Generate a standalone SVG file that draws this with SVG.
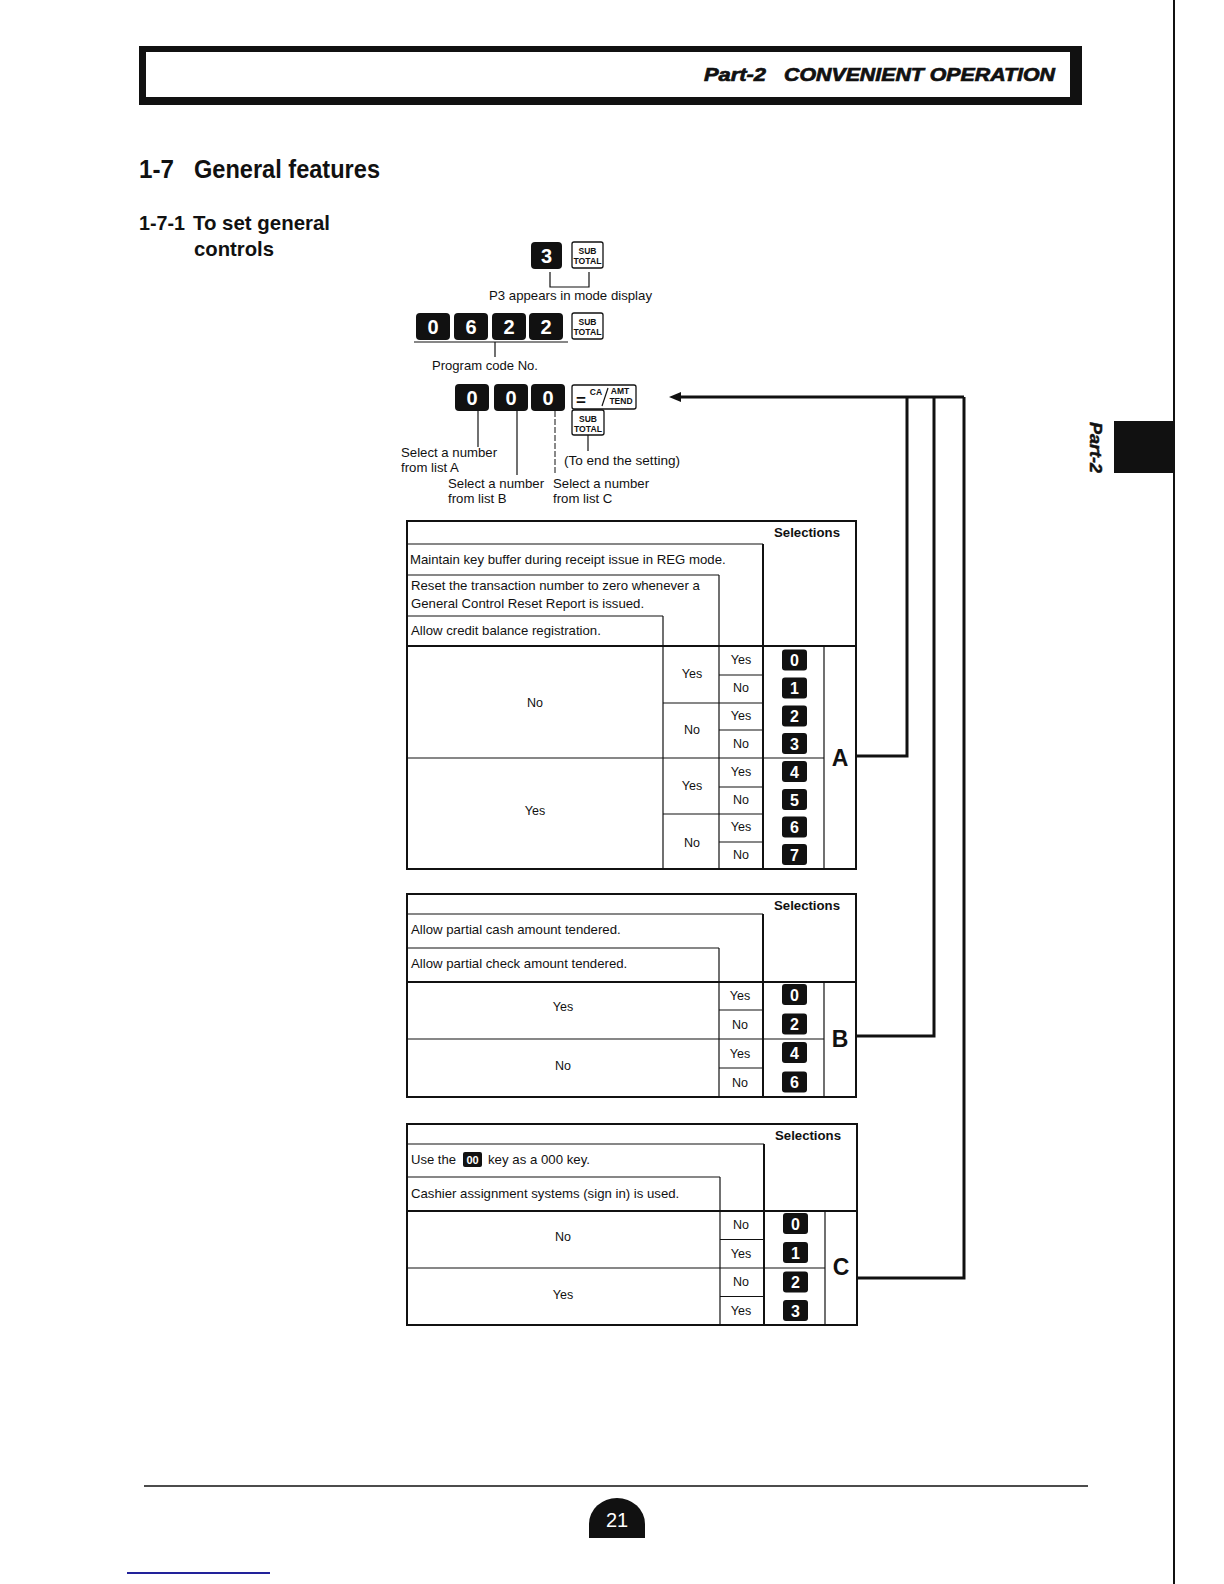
<svg xmlns="http://www.w3.org/2000/svg" width="1224" height="1584" viewBox="0 0 1224 1584">
<style>
.t{font-family:"Liberation Sans",Arial,sans-serif;font-size:13.2px;fill:#111}
.y{font-size:12.5px}
.c{text-anchor:middle}
.b{font-weight:bold}
.h{font-family:"Liberation Sans",Arial,sans-serif;font-weight:bold;fill:#111}
.key{fill:#111}
.kd{font-family:"Liberation Sans",Arial,sans-serif;font-weight:bold;fill:#fff;text-anchor:middle}
.sk{fill:#fff;stroke:#111;stroke-width:1.3}
.st{font-family:"Liberation Sans",Arial,sans-serif;font-weight:bold;font-size:8.5px;fill:#111;text-anchor:middle}
.ln{stroke:#111;stroke-width:1.2;fill:none}
.tk{stroke:#111;stroke-width:2;fill:none}
.conn{stroke:#111;stroke-width:3;fill:none}
</style>
<defs>
<marker id="arr" viewBox="0 0 12 10" refX="0" refY="5" markerWidth="12" markerHeight="10" markerUnits="userSpaceOnUse" orient="auto">
<path d="M0,0 L12,5 L0,10 Z" fill="#111"/>
</marker>
</defs>
<rect width="1224" height="1584" fill="#fff"/>

<g id="header">
<rect x="139" y="46" width="943" height="59" fill="#111"/>
<rect x="146" y="52" width="924" height="45" fill="#fff"/>
<text x="704" y="81" class="h" font-size="18" font-style="italic" stroke="#111" stroke-width="0.7" textLength="62" lengthAdjust="spacingAndGlyphs">Part-2</text>
<text x="784" y="81" class="h" font-size="18" font-style="italic" stroke="#111" stroke-width="0.7" textLength="271" lengthAdjust="spacingAndGlyphs">CONVENIENT OPERATION</text>
</g>

<g id="side-tab">
<line x1="1174" y1="0" x2="1174" y2="1584" stroke="#111" stroke-width="2"/>
<rect x="1114" y="421" width="60" height="52" fill="#111"/>
<text class="h" font-size="17" font-style="italic" stroke="#111" stroke-width="0.5" transform="translate(1090,422) rotate(90)" textLength="51" lengthAdjust="spacingAndGlyphs">Part-2</text>
</g>

<g id="titles">
<text x="139" y="178" class="h" font-size="26" textLength="35" lengthAdjust="spacingAndGlyphs">1-7</text>
<text x="194" y="178" class="h" font-size="26" textLength="186" lengthAdjust="spacingAndGlyphs">General features</text>
<text x="139" y="230" class="h" font-size="21" textLength="46" lengthAdjust="spacingAndGlyphs">1-7-1</text>
<text x="193" y="230" class="h" font-size="21" textLength="137" lengthAdjust="spacingAndGlyphs">To set general</text>
<text x="194" y="256" class="h" font-size="21" textLength="80" lengthAdjust="spacingAndGlyphs">controls</text>
</g>

<g id="step1">
<rect x="531" y="242" width="31" height="27" rx="4" class="key"/>
<text x="546.5" y="263" class="kd" font-size="20">3</text>
<rect x="572" y="242" width="31" height="26" rx="2" class="sk"/>
<text x="587.5" y="253.5" class="st">SUB</text>
<text x="587.5" y="263.5" class="st" textLength="28" lengthAdjust="spacingAndGlyphs">TOTAL</text>
<path d="M550,272 V287 H589 V272" class="ln"/>
<text x="489" y="300" class="t" font-size="12.5" textLength="163" lengthAdjust="spacingAndGlyphs">P3 appears in mode display</text>
</g>

<g id="step2">
<rect x="416" y="313" width="34" height="27" rx="4" class="key"/>
<text x="433" y="334" class="kd" font-size="20">0</text>
<rect x="454" y="313" width="34" height="27" rx="4" class="key"/>
<text x="471" y="334" class="kd" font-size="20">6</text>
<rect x="492" y="313" width="34" height="27" rx="4" class="key"/>
<text x="509" y="334" class="kd" font-size="20">2</text>
<rect x="529" y="313" width="34" height="27" rx="4" class="key"/>
<text x="546" y="334" class="kd" font-size="20">2</text>
<rect x="572" y="313" width="31" height="26" rx="2" class="sk"/>
<text x="587.5" y="324.5" class="st">SUB</text>
<text x="587.5" y="334.5" class="st" textLength="28" lengthAdjust="spacingAndGlyphs">TOTAL</text>
<line x1="414" y1="342" x2="568" y2="342" class="ln"/>
<line x1="495" y1="342" x2="495" y2="357" class="ln"/>
<text x="432" y="370" class="t" font-size="12.5" textLength="106" lengthAdjust="spacingAndGlyphs">Program code No.</text>
</g>

<g id="step3">
<rect x="455" y="384" width="34" height="27" rx="4" class="key"/>
<text x="472" y="405" class="kd" font-size="20">0</text>
<rect x="494" y="384" width="34" height="27" rx="4" class="key"/>
<text x="511" y="405" class="kd" font-size="20">0</text>
<rect x="531" y="384" width="34" height="27" rx="4" class="key"/>
<text x="548" y="405" class="kd" font-size="20">0</text>
<rect x="572" y="385" width="64" height="24" rx="2" class="sk"/>
<text x="581" y="406" class="h" font-size="17" text-anchor="middle">=</text>
<text x="596" y="395" class="st" font-size="8">CA</text>
<line x1="602" y1="406" x2="608" y2="388" class="ln"/>
<text x="620" y="394" class="st" font-size="7.5">AMT</text>
<text x="621" y="403.5" class="st" font-size="7.5">TEND</text>
<rect x="572" y="410" width="32" height="25" rx="2" class="sk"/>
<text x="588" y="421.5" class="st">SUB</text>
<text x="588" y="431.5" class="st" textLength="28" lengthAdjust="spacingAndGlyphs">TOTAL</text>
<line x1="478" y1="411" x2="478" y2="447" class="ln"/>
<line x1="517" y1="411" x2="517" y2="475" class="ln"/>
<line x1="555" y1="411" x2="555" y2="475" stroke="#111" stroke-width="1" stroke-dasharray="6,2"/>
<line x1="588" y1="435" x2="588" y2="451" class="ln"/>
<text x="401" y="457" class="t">Select a number</text>
<text x="401" y="472" class="t">from list A</text>
<text x="564" y="465" class="t" textLength="116" lengthAdjust="spacingAndGlyphs">(To end the setting)</text>
<text x="448" y="488" class="t">Select a number</text>
<text x="448" y="503" class="t">from list B</text>
<text x="553" y="488" class="t">Select a number</text>
<text x="553" y="503" class="t">from list C</text>
</g>

<g id="tableA">
<rect x="407" y="521" width="449" height="348" class="tk"/>
<line x1="407" y1="544" x2="763" y2="544" class="ln"/>
<line x1="407" y1="575" x2="719" y2="575" class="ln"/>
<line x1="407" y1="616" x2="663" y2="616" class="ln"/>
<line x1="407" y1="646" x2="856" y2="646" class="tk"/>
<line x1="763" y1="544" x2="763" y2="869" class="tk"/>
<line x1="719" y1="575" x2="719" y2="869" class="ln"/>
<line x1="663" y1="616" x2="663" y2="869" class="ln"/>
<line x1="824" y1="646" x2="824" y2="869" class="ln"/>
<line x1="407" y1="758" x2="824" y2="758" class="ln"/>
<line x1="663" y1="703" x2="763" y2="703" class="ln"/>
<line x1="663" y1="814" x2="763" y2="814" class="ln"/>
<line x1="719" y1="675" x2="763" y2="675" class="ln"/>
<line x1="719" y1="730" x2="763" y2="730" class="ln"/>
<line x1="719" y1="787" x2="763" y2="787" class="ln"/>
<line x1="719" y1="842" x2="763" y2="842" class="ln"/>
<text x="807" y="537" class="t b c" font-size="13.5">Selections</text>
<text x="410" y="564" class="t">Maintain key buffer during receipt issue in REG mode.</text>
<text x="411" y="590" class="t">Reset the transaction number to zero whenever a</text>
<text x="411" y="608" class="t">General Control Reset Report is issued.</text>
<text x="411" y="635" class="t">Allow credit balance registration.</text>
<text x="535" y="707" class="t y c">No</text>
<text x="535" y="815" class="t y c">Yes</text>
<text x="692" y="678" class="t y c">Yes</text>
<text x="692" y="734" class="t y c">No</text>
<text x="692" y="790" class="t y c">Yes</text>
<text x="692" y="847" class="t y c">No</text>
<text x="741" y="664" class="t y c">Yes</text>
<text x="741" y="692" class="t y c">No</text>
<text x="741" y="720" class="t y c">Yes</text>
<text x="741" y="748" class="t y c">No</text>
<text x="741" y="776" class="t y c">Yes</text>
<text x="741" y="804" class="t y c">No</text>
<text x="741" y="831" class="t y c">Yes</text>
<text x="741" y="859" class="t y c">No</text>
<rect x="782" y="649.5" width="25" height="21" rx="3" class="key"/><text x="794.5" y="666" class="kd" font-size="16">0</text>
<rect x="782" y="677.5" width="25" height="21" rx="3" class="key"/><text x="794.5" y="694" class="kd" font-size="16">1</text>
<rect x="782" y="705.5" width="25" height="21" rx="3" class="key"/><text x="794.5" y="722" class="kd" font-size="16">2</text>
<rect x="782" y="733" width="25" height="21" rx="3" class="key"/><text x="794.5" y="749.5" class="kd" font-size="16">3</text>
<rect x="782" y="761" width="25" height="21" rx="3" class="key"/><text x="794.5" y="777.5" class="kd" font-size="16">4</text>
<rect x="782" y="789" width="25" height="21" rx="3" class="key"/><text x="794.5" y="805.5" class="kd" font-size="16">5</text>
<rect x="782" y="816.5" width="25" height="21" rx="3" class="key"/><text x="794.5" y="833" class="kd" font-size="16">6</text>
<rect x="782" y="844" width="25" height="21" rx="3" class="key"/><text x="794.5" y="860.5" class="kd" font-size="16">7</text>
<text x="840" y="766" class="h c" font-size="23">A</text>
</g>

<g id="tableB">
<rect x="407" y="894" width="449" height="203" class="tk"/>
<line x1="407" y1="914" x2="763" y2="914" class="ln"/>
<line x1="407" y1="948" x2="719" y2="948" class="ln"/>
<line x1="407" y1="982" x2="856" y2="982" class="tk"/>
<line x1="763" y1="914" x2="763" y2="1097" class="tk"/>
<line x1="719" y1="948" x2="719" y2="1097" class="ln"/>
<line x1="824" y1="982" x2="824" y2="1097" class="ln"/>
<line x1="407" y1="1039" x2="824" y2="1039" class="ln"/>
<line x1="719" y1="1010" x2="763" y2="1010" class="ln"/>
<line x1="719" y1="1068" x2="763" y2="1068" class="ln"/>
<text x="807" y="910" class="t b c" font-size="13.5">Selections</text>
<text x="411" y="934" class="t">Allow partial cash amount tendered.</text>
<text x="411" y="968" class="t">Allow partial check amount tendered.</text>
<text x="563" y="1011" class="t y c">Yes</text>
<text x="563" y="1070" class="t y c">No</text>
<text x="740" y="1000" class="t y c">Yes</text>
<text x="740" y="1029" class="t y c">No</text>
<text x="740" y="1058" class="t y c">Yes</text>
<text x="740" y="1087" class="t y c">No</text>
<rect x="782" y="984" width="25" height="21" rx="3" class="key"/><text x="794.5" y="1000.5" class="kd" font-size="16">0</text>
<rect x="782" y="1013.5" width="25" height="21" rx="3" class="key"/><text x="794.5" y="1030" class="kd" font-size="16">2</text>
<rect x="782" y="1042" width="25" height="21" rx="3" class="key"/><text x="794.5" y="1058.5" class="kd" font-size="16">4</text>
<rect x="782" y="1071.5" width="25" height="21" rx="3" class="key"/><text x="794.5" y="1088" class="kd" font-size="16">6</text>
<text x="840" y="1047" class="h c" font-size="23">B</text>
</g>

<g id="tableC">
<rect x="407" y="1124" width="450" height="201" class="tk"/>
<line x1="407" y1="1144" x2="764" y2="1144" class="ln"/>
<line x1="407" y1="1177" x2="720" y2="1177" class="ln"/>
<line x1="407" y1="1211" x2="857" y2="1211" class="tk"/>
<line x1="764" y1="1144" x2="764" y2="1325" class="tk"/>
<line x1="720" y1="1177" x2="720" y2="1325" class="ln"/>
<line x1="825" y1="1211" x2="825" y2="1325" class="ln"/>
<line x1="407" y1="1268" x2="825" y2="1268" class="ln"/>
<line x1="720" y1="1239.5" x2="764" y2="1239.5" class="ln"/>
<line x1="720" y1="1296.5" x2="764" y2="1296.5" class="ln"/>
<text x="808" y="1140" class="t b c" font-size="13.5">Selections</text>
<text x="411" y="1164" class="t" textLength="45" lengthAdjust="spacingAndGlyphs">Use the</text>
<rect x="463" y="1152" width="19" height="15" rx="2" class="key"/>
<text x="472.5" y="1164" class="kd" font-size="11">00</text>
<text x="488" y="1164" class="t" textLength="102" lengthAdjust="spacingAndGlyphs">key as a 000 key.</text>
<text x="411" y="1198" class="t">Cashier assignment systems (sign in) is used.</text>
<text x="563" y="1241" class="t y c">No</text>
<text x="563" y="1299" class="t y c">Yes</text>
<text x="741" y="1229" class="t y c">No</text>
<text x="741" y="1258" class="t y c">Yes</text>
<text x="741" y="1286" class="t y c">No</text>
<text x="741" y="1315" class="t y c">Yes</text>
<rect x="783" y="1213" width="25" height="21" rx="3" class="key"/><text x="795.5" y="1229.5" class="kd" font-size="16">0</text>
<rect x="783" y="1242" width="25" height="21" rx="3" class="key"/><text x="795.5" y="1258.5" class="kd" font-size="16">1</text>
<rect x="783" y="1271.5" width="25" height="21" rx="3" class="key"/><text x="795.5" y="1288" class="kd" font-size="16">2</text>
<rect x="783" y="1300" width="25" height="21" rx="3" class="key"/><text x="795.5" y="1316.5" class="kd" font-size="16">3</text>
<text x="841" y="1275" class="h c" font-size="23">C</text>
</g>

<g id="connectors">
<path d="M964,397 H681" class="conn" marker-end="url(#arr)"/>
<path d="M856,756 H907 V397" class="conn"/>
<path d="M856,1036 H934 V397" class="conn"/>
<path d="M857,1278 H964 V397" class="conn"/>
</g>

<g id="footer">
<line x1="144" y1="1486" x2="1088" y2="1486" stroke="#111" stroke-width="1.5"/>
<path d="M589,1538 V1524 A28,26 0 0 1 645,1524 V1538 Z" fill="#111"/>
<text x="617" y="1527" font-family="Liberation Sans, Arial, sans-serif" font-size="20" fill="#fff" text-anchor="middle">21</text>
<line x1="127" y1="1573" x2="270" y2="1573" stroke="#22229a" stroke-width="2"/>
</g>
</svg>
